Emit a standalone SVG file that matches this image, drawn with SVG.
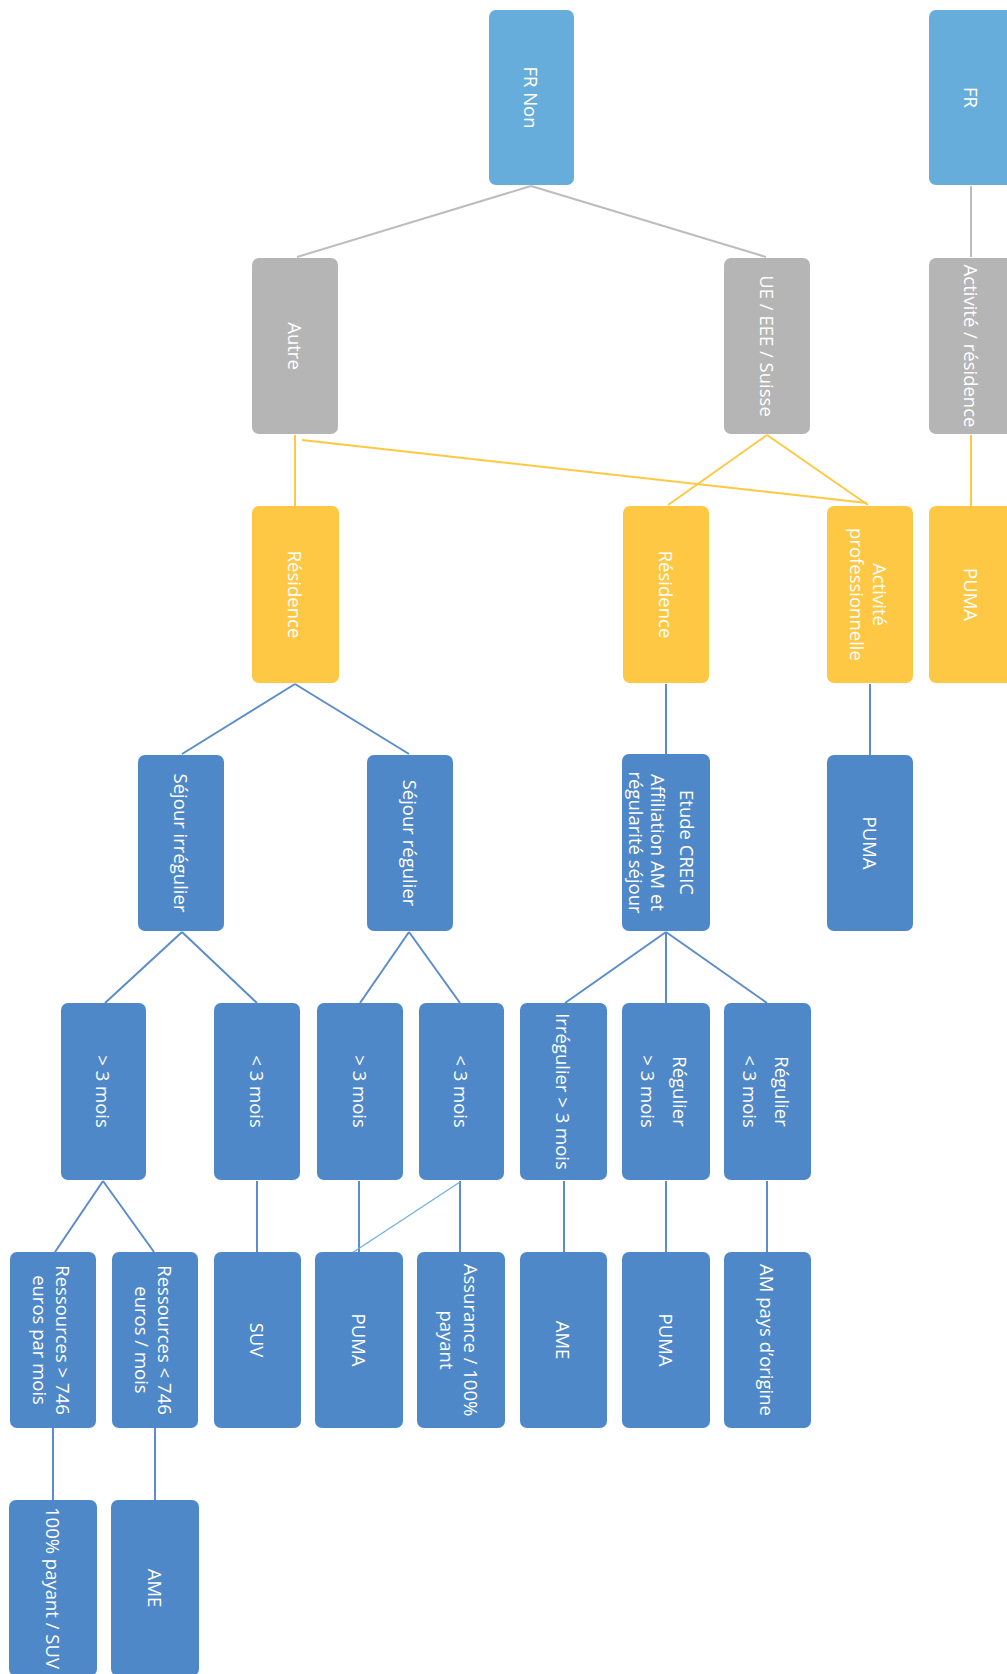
<svg xmlns="http://www.w3.org/2000/svg" width="1007" height="1674" viewBox="0 0 1007 1674">
<style>
rect{stroke:none}
.lb{fill:#67ADDB}
.gr{fill:#B5B5B5}
.ye{fill:#FFC844}
.bl{fill:#4F88C9}
text{font-family:"Open Sans","DejaVu Sans",sans-serif;font-size:18.5px;fill:#FFFFFF;text-anchor:middle;dominant-baseline:central}
tspan{dominant-baseline:central}
.cg{stroke:#BDBDBD;stroke-width:2;fill:none}
.cy{stroke:#FFC843;stroke-width:2;fill:none}
.cb{stroke:#5B8CCB;stroke-width:2;fill:none}
.cl{stroke:#6FB0E0;stroke-width:1.3;fill:none}
</style>
<rect width="1007" height="1674" fill="#FFFFFF"/>
<g id="connectors">
<line class="cg" x1="531" y1="186" x2="297" y2="257"/>
<line class="cg" x1="531" y1="186" x2="766" y2="257"/>
<line class="cg" x1="971" y1="186" x2="971" y2="257"/>
<line class="cy" x1="295" y1="435" x2="295" y2="506"/>
<line class="cy" x1="302" y1="440" x2="867" y2="503"/>
<line class="cy" x1="767" y1="435" x2="668" y2="505"/>
<line class="cy" x1="767" y1="435" x2="868" y2="505"/>
<line class="cy" x1="971" y1="435" x2="971" y2="506"/>
<line class="cb" x1="295" y1="684" x2="182" y2="754"/>
<line class="cb" x1="295" y1="684" x2="409" y2="754"/>
<line class="cb" x1="666" y1="684" x2="666" y2="754"/>
<line class="cb" x1="870" y1="684" x2="870" y2="755"/>
<line class="cb" x1="182" y1="932" x2="105" y2="1003"/>
<line class="cb" x1="182" y1="932" x2="257" y2="1003"/>
<line class="cb" x1="409" y1="932" x2="360" y2="1003"/>
<line class="cb" x1="409" y1="932" x2="460" y2="1003"/>
<line class="cb" x1="666" y1="932" x2="565" y2="1003"/>
<line class="cb" x1="666" y1="932" x2="666" y2="1003"/>
<line class="cb" x1="666" y1="932" x2="767" y2="1003"/>
<line class="cb" x1="103" y1="1181" x2="55" y2="1252"/>
<line class="cb" x1="103" y1="1181" x2="154" y2="1252"/>
<line class="cb" x1="257" y1="1181" x2="257" y2="1252"/>
<line class="cb" x1="359" y1="1181" x2="359" y2="1252"/>
<line class="cb" x1="460" y1="1181" x2="460" y2="1252"/>
<line class="cb" x1="564" y1="1181" x2="564" y2="1252"/>
<line class="cb" x1="666" y1="1181" x2="666" y2="1252"/>
<line class="cb" x1="767" y1="1181" x2="767" y2="1252"/>
<line class="cb" x1="53" y1="1428" x2="53" y2="1500"/>
<line class="cb" x1="155" y1="1428" x2="155" y2="1500"/>
<line class="cl" x1="460" y1="1182" x2="352" y2="1253"/>
</g>
<g id="n-frnon"><rect class="lb" x="489" y="10" width="85" height="175" rx="7"/><text transform="translate(531.5,97.5) rotate(90)">FR Non</text></g>
<g id="n-fr"><rect class="lb" x="929" y="10" width="84" height="175" rx="7"/><text transform="translate(971,97.5) rotate(90)">FR</text></g>
<g id="n-autre"><rect class="gr" x="252" y="258" width="86" height="176" rx="7"/><text transform="translate(295,346) rotate(90)">Autre</text></g>
<g id="n-ue"><rect class="gr" x="724" y="258" width="86" height="176" rx="7"/><text transform="translate(767,346) rotate(90)">UE / EEE / Suisse</text></g>
<g id="n-actres"><rect class="gr" x="929" y="258" width="84" height="176" rx="7"/><text transform="translate(971,346) rotate(90)">Activité / résidence</text></g>
<g id="n-res1"><rect class="ye" x="252" y="506" width="87" height="177" rx="7"/><text transform="translate(295.5,594.5) rotate(90)">Résidence</text></g>
<g id="n-res2"><rect class="ye" x="623" y="506" width="86" height="177" rx="7"/><text transform="translate(666,594.5) rotate(90)">Résidence</text></g>
<g id="n-actpro"><rect class="ye" x="827" y="506" width="86" height="177" rx="7"/><text transform="translate(870,594.5) rotate(90)"><tspan x="0" y="-11">Activité</tspan><tspan x="0" y="12">professionnelle</tspan></text></g>
<g id="n-puma-y"><rect class="ye" x="929" y="506" width="84" height="177" rx="7"/><text transform="translate(971,594.5) rotate(90)">PUMA</text></g>
<g id="n-sejirr"><rect class="bl" x="138" y="755" width="86" height="176" rx="7"/><text transform="translate(181,843) rotate(90)">Séjour irrégulier</text></g>
<g id="n-sejreg"><rect class="bl" x="367" y="755" width="86" height="176" rx="7"/><text transform="translate(410,843) rotate(90)">Séjour régulier</text></g>
<g id="n-etude"><rect class="bl" x="622" y="754" width="88" height="177" rx="7"/><text transform="translate(666,842.5) rotate(90)"><tspan x="0" y="-22">Etude CREIC</tspan><tspan x="0" y="7">Affiliation AM et</tspan><tspan x="0" y="29">régularité séjour</tspan></text></g>
<g id="n-puma1"><rect class="bl" x="827" y="755" width="86" height="176" rx="7"/><text transform="translate(870,843) rotate(90)">PUMA</text></g>
<g id="n-sup3a"><rect class="bl" x="61" y="1003" width="85" height="177" rx="7"/><text transform="translate(103.5,1091.5) rotate(90)">&gt; 3 mois</text></g>
<g id="n-inf3a"><rect class="bl" x="214" y="1003" width="86" height="177" rx="7"/><text transform="translate(257,1091.5) rotate(90)">&lt; 3 mois</text></g>
<g id="n-sup3b"><rect class="bl" x="317" y="1003" width="86" height="177" rx="7"/><text transform="translate(360,1091.5) rotate(90)">&gt; 3 mois</text></g>
<g id="n-inf3b"><rect class="bl" x="419" y="1003" width="85" height="177" rx="7"/><text transform="translate(461.5,1091.5) rotate(90)">&lt; 3 mois</text></g>
<g id="n-irr3"><rect class="bl" x="520" y="1003" width="87" height="177" rx="7"/><text transform="translate(563.5,1091.5) rotate(90)">Irrégulier &gt; 3 mois</text></g>
<g id="n-reg-sup3"><rect class="bl" x="622" y="1003" width="88" height="177" rx="7"/><text transform="translate(666,1091.5) rotate(90)"><tspan x="0" y="-15">Régulier</tspan><tspan x="0" y="17">&gt; 3 mois</tspan></text></g>
<g id="n-reg-inf3"><rect class="bl" x="724" y="1003" width="87" height="177" rx="7"/><text transform="translate(767.5,1091.5) rotate(90)"><tspan x="0" y="-15">Régulier</tspan><tspan x="0" y="17">&lt; 3 mois</tspan></text></g>
<g id="n-ress-sup"><rect class="bl" x="10" y="1252" width="86" height="176" rx="7"/><text transform="translate(53,1340) rotate(90)"><tspan x="0" y="-11">Ressources &gt; 746</tspan><tspan x="0" y="12">euros par mois</tspan></text></g>
<g id="n-ress-inf"><rect class="bl" x="112" y="1252" width="86" height="176" rx="7"/><text transform="translate(155,1340) rotate(90)"><tspan x="0" y="-11">Ressources &lt; 746</tspan><tspan x="0" y="12">euros / mois</tspan></text></g>
<g id="n-suv"><rect class="bl" x="214" y="1252" width="87" height="176" rx="7"/><text transform="translate(257.5,1340) rotate(90)">SUV</text></g>
<g id="n-puma2"><rect class="bl" x="315" y="1252" width="88" height="176" rx="7"/><text transform="translate(359,1340) rotate(90)">PUMA</text></g>
<g id="n-assur"><rect class="bl" x="417" y="1252" width="88" height="176" rx="7"/><text transform="translate(461,1340) rotate(90)"><tspan x="0" y="-11">Assurance / 100%</tspan><tspan x="0" y="13">payant</tspan></text></g>
<g id="n-ame1"><rect class="bl" x="520" y="1252" width="87" height="176" rx="7"/><text transform="translate(563.5,1340) rotate(90)">AME</text></g>
<g id="n-puma3"><rect class="bl" x="622" y="1252" width="88" height="176" rx="7"/><text transform="translate(666,1340) rotate(90)">PUMA</text></g>
<g id="n-ampays"><rect class="bl" x="724" y="1252" width="87" height="176" rx="7"/><text transform="translate(767.5,1340) rotate(90)">AM pays d’origine</text></g>
<g id="n-100"><rect class="bl" x="9" y="1500" width="88" height="176" rx="7"/><text transform="translate(53,1588) rotate(90)">100% payant / SUV</text></g>
<g id="n-ame2"><rect class="bl" x="111" y="1500" width="88" height="176" rx="7"/><text transform="translate(155,1588) rotate(90)">AME</text></g>
</svg>
